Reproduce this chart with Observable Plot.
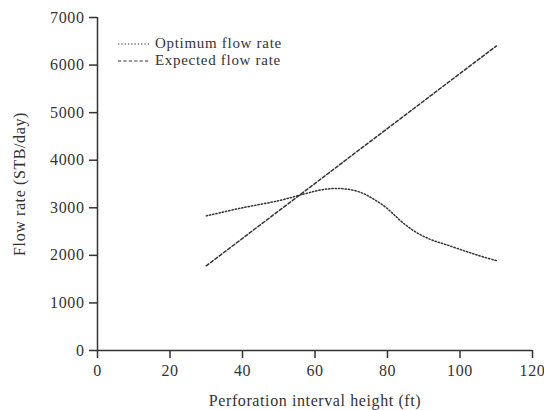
<!DOCTYPE html>
<html>
<head>
<meta charset="utf-8">
<script src="https://cdn.jsdelivr.net/npm/d3@7"></script>
<script src="https://cdn.jsdelivr.net/npm/@observablehq/plot@0.6"></script>
<style>
  html, body { margin: 0; padding: 0; background: #fff; }
  #wrap { position: relative; width: 544px; height: 410px; overflow: hidden; }
  #wrap svg text { font-family: "Liberation Serif", "Times New Roman", serif; font-size: 16px; letter-spacing: 0.6px; }
  #legend { position: absolute; left: 118px; top: 35px; font-family: "Liberation Serif", "Times New Roman", serif; font-size: 15px; letter-spacing: 0.7px; color: #333; line-height: 17px; }
  #legend div { display: flex; align-items: center; height: 17px; white-space: nowrap; }
  #legend svg { margin-right: 5px; }
</style>
</head>
<body>
<div id="wrap"><div id="legend"></div></div>
<script>
const seriesNames = ["Optimum flow rate", "Expected flow rate"];
const optimumX = [30, 40, 50, 57, 62, 67, 72, 76, 80, 84, 88, 92, 96, 101, 105, 110];
const optimumY = [2830, 3000, 3150, 3290, 3380, 3405, 3340, 3190, 2980, 2700, 2480, 2330, 2230, 2100, 2000, 1890];
const expectedX = [30, 110];
const expectedY = [1780, 6400];
const xTicks = [0, 20, 40, 60, 80, 100, 120];
const yTicks = [0, 1000, 2000, 3000, 4000, 5000, 6000, 7000];

const optimum = optimumX.map((x, i) => ({x, y: optimumY[i]}));
const expected = expectedX.map((x, i) => ({x, y: expectedY[i]}));
const ink = "#333";
const dashes = {"Optimum flow rate": "1.3,2", "Expected flow rate": "3.2,2.2"};

const chart = Plot.plot({
  width: 544,
  height: 410,
  marginLeft: 97,
  marginRight: 12,
  marginTop: 17,
  marginBottom: 60,
  style: {fontSize: "16px", color: ink, background: "#fff", overflow: "visible"},
  x: {domain: [0, 120]},
  y: {domain: [0, 7000]},
  marks: [
    Plot.axisX({ticks: xTicks, tickFormat: d3.format("d"), tickSize: 8, tickPadding: 6, stroke: ink, strokeWidth: 1.5, label: "Perforation interval height (ft)", labelAnchor: "center", labelOffset: 55, labelArrow: "none"}),
    Plot.axisY({ticks: yTicks, tickFormat: d3.format("d"), tickSize: 8, tickPadding: 5, stroke: ink, strokeWidth: 1.5, label: "Flow rate (STB/day)", labelAnchor: "center", labelOffset: 84, labelArrow: "none"}),
    Plot.ruleY([0], {stroke: ink, strokeWidth: 1.5}),
    Plot.ruleX([0], {stroke: ink, strokeWidth: 1.5}),
    Plot.line(optimum, {x: "x", y: "y", curve: "catmull-rom", stroke: ink, strokeWidth: 1.5, strokeDasharray: dashes["Optimum flow rate"]}),
    Plot.line(expected, {x: "x", y: "y", stroke: ink, strokeWidth: 1.5, strokeDasharray: dashes["Expected flow rate"]})
  ]
});
document.getElementById("wrap").prepend(chart);

const legend = document.getElementById("legend");
for (const name of seriesNames) {
  const row = document.createElement("div");
  row.innerHTML = `<svg width="32" height="6"><line x1="0" x2="32" y1="3" y2="3" stroke="${ink}" stroke-width="1.2" stroke-dasharray="${dashes[name]}"/></svg><span>${name}</span>`;
  legend.appendChild(row);
}
</script>
</body>
</html>
